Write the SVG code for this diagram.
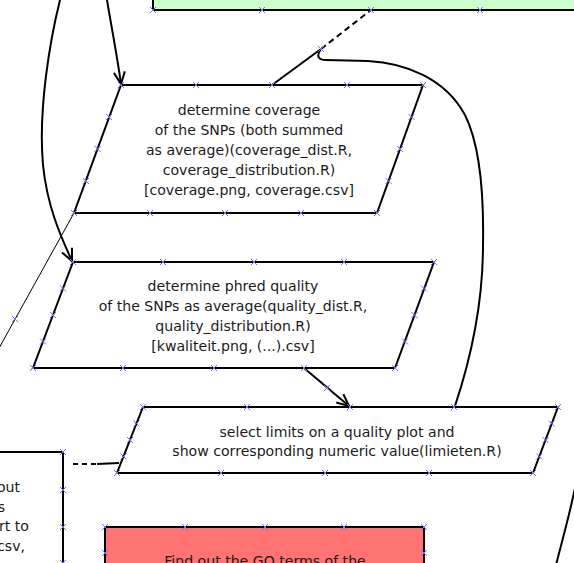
<svg xmlns="http://www.w3.org/2000/svg" width="574" height="563" viewBox="0 0 574 563">
<defs>
<style>
.shape{stroke:#000;stroke-width:2;fill:#fff}
.ln{stroke:#000;stroke-width:2;fill:none}
.thin{stroke:#000;stroke-width:1;fill:none}
.dash{stroke-dasharray:6 4}
.t{font-family:"DejaVu Sans",Verdana,sans-serif;font-size:14.1px;fill:#1a1a1a;text-anchor:middle}
.te{font-family:"DejaVu Sans",Verdana,sans-serif;font-size:14.1px;fill:#1a1a1a;text-anchor:end}
.cp{stroke:#6f6fe8;stroke-width:1;fill:none}
</style>
<marker id="arr" viewBox="-14 -8 16 16" markerWidth="16" markerHeight="16" refX="0" refY="0" orient="auto" markerUnits="userSpaceOnUse">
<path d="M-12,-5.5 L0,0 L-12,5.5" fill="none" stroke="#000" stroke-width="2"/>
</marker>
<path id="x" d="M-3,-3 L3,3 M-3,3 L3,-3"/>
</defs>
<rect width="574" height="563" fill="#fff"/>

<g id="green-node">
<rect class="shape" x="153" y="-40" width="470" height="50" style="fill:#ccffcc"/>
</g>

<g id="coverage-node">
<polygon class="shape" points="121,85 423,85 377,213 74,213"/>
<text class="t" x="249" y="115">determine coverage</text>
<text class="t" x="249" y="135">of the SNPs (both summed</text>
<text class="t" x="249" y="155">as average)(coverage_dist.R,</text>
<text class="t" x="249" y="175">coverage_distribution.R)</text>
<text class="t" x="249" y="195">[coverage.png, coverage.csv]</text>
</g>

<g id="quality-node">
<polygon class="shape" points="73,262 434,262 395,368 33,368"/>
<text class="t" x="233" y="291">determine phred quality</text>
<text class="t" x="233" y="311">of the SNPs as average(quality_dist.R,</text>
<text class="t" x="233" y="331">quality_distribution.R)</text>
<text class="t" x="233" y="351">[kwaliteit.png, (...).csv]</text>
</g>

<g id="limits-node">
<polygon class="shape" points="143,407 558,407 533,473 117,473"/>
<text class="t" x="337" y="437">select limits on a quality plot and</text>
<text class="t" x="337" y="456">show corresponding numeric value(limieten.R)</text>
</g>

<g id="left-node">
<rect class="shape" x="-100" y="452" width="163" height="148"/>
<text class="te" x="20" y="492">out</text>
<text class="te" x="5" y="512">s</text>
<text class="te" x="29" y="531">rt to</text>
<text class="te" x="25" y="551">csv,</text>
</g>

<g id="go-node">
<rect class="shape" x="105" y="527" width="319" height="104" style="fill:#ff7373"/>
<text class="t" x="265" y="566">Find out the GO terms of the</text>
</g>

<g id="connectors">
<path class="ln" d="M107,0 C112,30 117,55 121,84" marker-end="url(#arr)"/>
<path class="ln" d="M60,0 C50,40 38,110 43,165 C47,205 60,235 72,261" marker-end="url(#arr)"/>
<path class="ln" d="M304,368 L349,406" marker-end="url(#arr)"/>
<path class="ln" d="M272,85 L321,49"/>
<path class="ln dash" d="M321,49 L371,10"/>
<path class="ln" d="M321,49 C316,56 318,60 326,60 L368,61 C405,63 445,78 465,115 C480,145 484,190 483,245 C483,300 472,355 455,406"/>
<path class="thin" d="M74,213 L-2,350"/>
<path class="ln" d="M119,463 L97,464"/>
<path class="ln dash" d="M96,464 L70,464" style="stroke-dasharray:5 4"/>
<path class="ln" d="M577,478 C571,510 563,537 556,565"/>
</g>

<g id="connection-points" class="cp">
<use href="#x" x="153" y="10"/><use href="#x" x="262" y="10"/><use href="#x" x="371" y="10"/><use href="#x" x="480" y="10"/>
<use href="#x" x="321" y="49"/>
<use href="#x" x="121" y="85"/><use href="#x" x="196" y="85"/><use href="#x" x="272" y="85"/><use href="#x" x="347" y="85"/><use href="#x" x="423" y="85"/>
<use href="#x" x="74" y="213"/><use href="#x" x="150" y="213"/><use href="#x" x="225" y="213"/><use href="#x" x="301" y="213"/><use href="#x" x="377" y="213"/>
<use href="#x" x="109" y="117"/><use href="#x" x="97.5" y="149"/><use href="#x" x="86" y="181"/>
<use href="#x" x="411.5" y="117"/><use href="#x" x="400" y="149"/><use href="#x" x="388.5" y="181"/>
<use href="#x" x="73" y="262"/><use href="#x" x="163" y="262"/><use href="#x" x="254" y="262"/><use href="#x" x="344" y="262"/><use href="#x" x="434" y="262"/>
<use href="#x" x="33" y="368"/><use href="#x" x="123" y="368"/><use href="#x" x="214" y="368"/><use href="#x" x="304" y="368"/><use href="#x" x="395" y="368"/>
<use href="#x" x="63" y="288.5"/><use href="#x" x="53" y="315"/><use href="#x" x="43" y="341.5"/>
<use href="#x" x="424" y="288.5"/><use href="#x" x="414.5" y="315"/><use href="#x" x="405" y="341.5"/>
<use href="#x" x="327" y="388"/>
<use href="#x" x="15" y="319"/>
<use href="#x" x="143" y="407"/><use href="#x" x="247" y="407"/><use href="#x" x="350" y="407"/><use href="#x" x="454" y="407"/><use href="#x" x="558" y="407"/>
<use href="#x" x="117" y="473"/><use href="#x" x="221" y="473"/><use href="#x" x="325" y="473"/><use href="#x" x="429" y="473"/><use href="#x" x="533" y="473"/>
<use href="#x" x="136.5" y="423.5"/><use href="#x" x="130" y="440"/><use href="#x" x="123.5" y="456.5"/>
<use href="#x" x="551.7" y="423.5"/><use href="#x" x="545.5" y="440"/><use href="#x" x="539.2" y="456.5"/>
<use href="#x" x="63" y="452"/><use href="#x" x="63" y="490"/><use href="#x" x="63" y="527"/><use href="#x" x="63" y="563"/>
<use href="#x" x="105" y="527"/><use href="#x" x="185" y="527"/><use href="#x" x="265" y="527"/><use href="#x" x="344" y="527"/><use href="#x" x="424" y="527"/>
<use href="#x" x="105" y="553"/><use href="#x" x="424" y="553"/>
</g>
</svg>
